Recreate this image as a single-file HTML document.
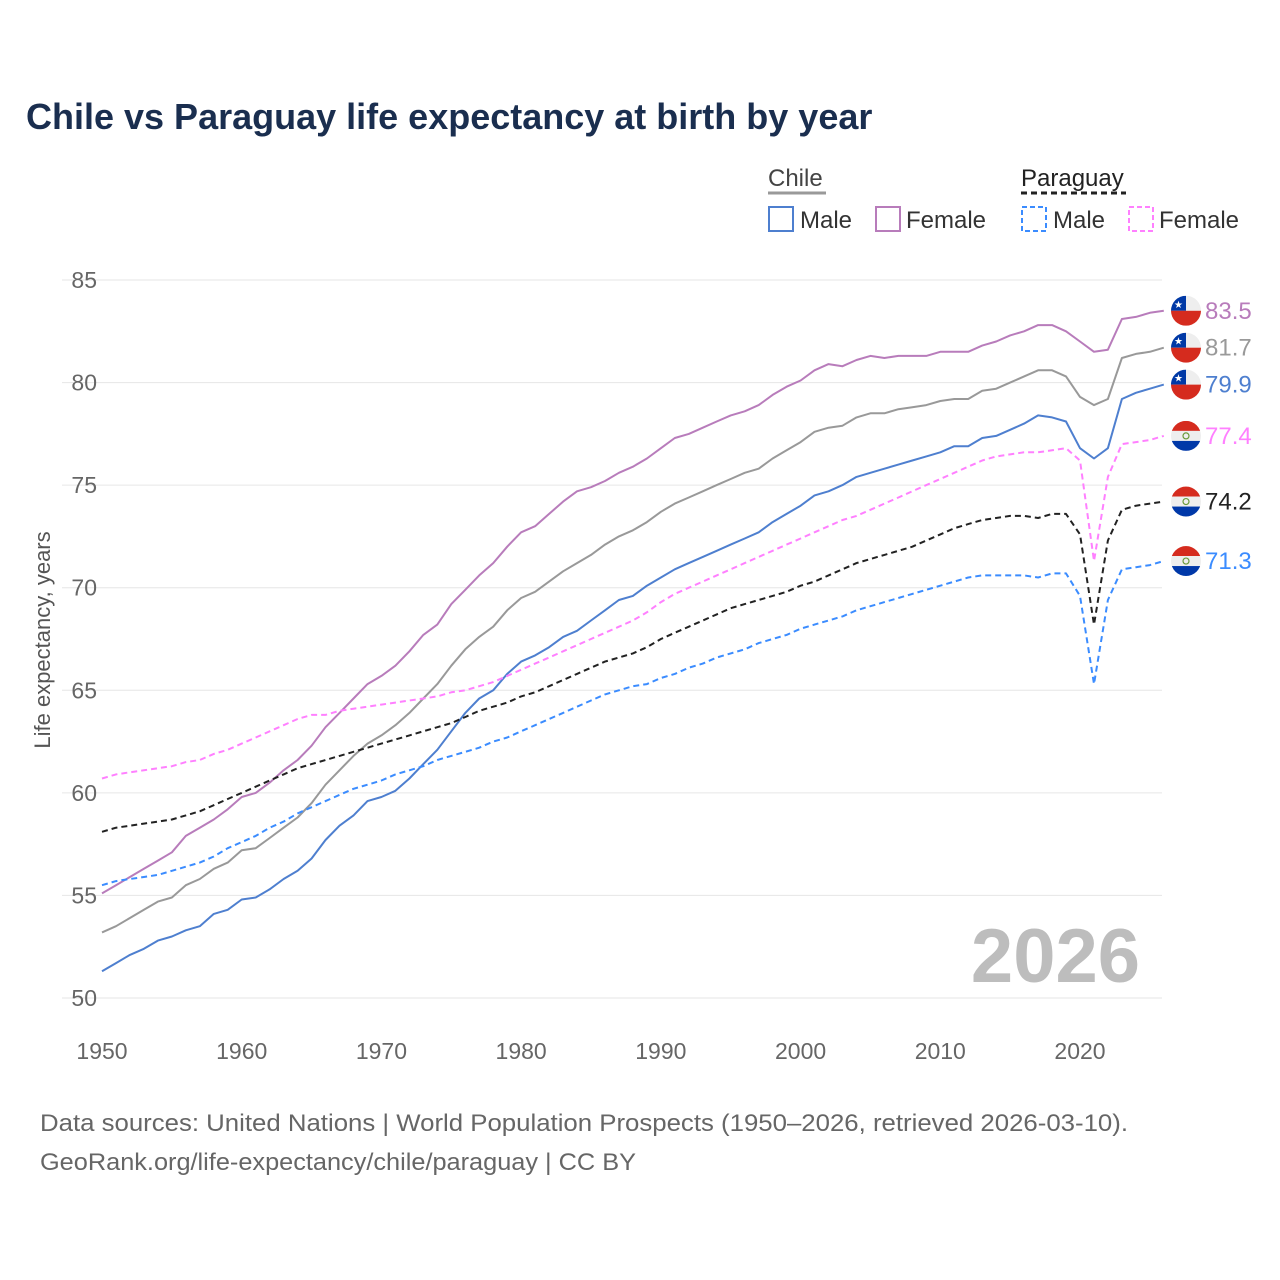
<!DOCTYPE html>
<html><head><meta charset="utf-8">
<style>
body{margin:0;background:#fff;font-family:"Liberation Sans",sans-serif;}
#wrap{position:relative;width:1280px;height:1280px;overflow:hidden;}
</style></head>
<body>
<div id="wrap">
<svg id="chart" width="1280" height="1280" xmlns="http://www.w3.org/2000/svg">
<text x="26" y="129" font-size="36" font-weight="bold" fill="#1a2e4f">Chile vs Paraguay life expectancy at birth by year</text>
<g id="legend">
<text x="768" y="186" font-size="24" fill="#444">Chile</text>
<line x1="768" y1="193" x2="826" y2="193" stroke="#999" stroke-width="3"/>
<text x="1021" y="186" font-size="24" fill="#222">Paraguay</text>
<line x1="1021" y1="193" x2="1126" y2="193" stroke="#222" stroke-width="3" stroke-dasharray="6,4"/>
<g><rect x="769" y="207" width="24" height="24" fill="none" stroke="#4e7fcf" stroke-width="2"/><text x="800" y="228" font-size="24" fill="#333">Male</text></g>
<g><rect x="876" y="207" width="24" height="24" fill="none" stroke="#b87cbb" stroke-width="2"/><text x="906" y="228" font-size="24" fill="#333">Female</text></g>
<g><rect x="1022" y="207" width="24" height="24" fill="none" stroke="#3b8cff" stroke-width="2" stroke-dasharray="5,3"/><text x="1053" y="228" font-size="24" fill="#333">Male</text></g>
<g><rect x="1129" y="207" width="24" height="24" fill="none" stroke="#ff80ff" stroke-width="2" stroke-dasharray="5,3"/><text x="1159" y="228" font-size="24" fill="#333">Female</text></g>
</g>
<g id="grid"></g>
<g id="series"></g>
<g id="labels"></g>
<text x="1140" y="982" font-size="76" font-weight="bold" fill="#bdbdbd" text-anchor="end">2026</text>
<text transform="translate(50,640) rotate(-90)" font-size="22" fill="#555" text-anchor="middle">Life expectancy, years</text>
<text x="40" y="1131" font-size="24" fill="#666" textLength="1088" lengthAdjust="spacingAndGlyphs">Data sources: United Nations | World Population Prospects (1950–2026, retrieved 2026-03-10).</text>
<text x="40" y="1170" font-size="24" fill="#666" textLength="596" lengthAdjust="spacingAndGlyphs">GeoRank.org/life-expectancy/chile/paraguay | CC BY</text>
</svg>
</div>
<script>
const startYear = 1950;
const yTicks = [50,55,60,65,70,75,80,85];
const xTicks = [1950,1960,1970,1980,1990,2000,2010,2020];
const chileFemale = [55.1,55.5,55.9,56.3,56.7,57.1,57.9,58.3,58.7,59.2,59.8,60.0,60.5,61.1,61.6,62.3,63.2,63.9,64.6,65.3,65.7,66.2,66.9,67.7,68.2,69.2,69.9,70.6,71.2,72.0,72.7,73.0,73.6,74.2,74.7,74.9,75.2,75.6,75.9,76.3,76.8,77.3,77.5,77.8,78.1,78.4,78.6,78.9,79.4,79.8,80.1,80.6,80.9,80.8,81.1,81.3,81.2,81.3,81.3,81.3,81.5,81.5,81.5,81.8,82.0,82.3,82.5,82.8,82.8,82.5,82.0,81.5,81.6,83.1,83.2,83.4,83.5];
const chileTotal = [53.2,53.5,53.9,54.3,54.7,54.9,55.5,55.8,56.3,56.6,57.2,57.3,57.8,58.3,58.8,59.5,60.4,61.1,61.8,62.4,62.8,63.3,63.9,64.6,65.3,66.2,67.0,67.6,68.1,68.9,69.5,69.8,70.3,70.8,71.2,71.6,72.1,72.5,72.8,73.2,73.7,74.1,74.4,74.7,75.0,75.3,75.6,75.8,76.3,76.7,77.1,77.6,77.8,77.9,78.3,78.5,78.5,78.7,78.8,78.9,79.1,79.2,79.2,79.6,79.7,80.0,80.3,80.6,80.6,80.3,79.3,78.9,79.2,81.2,81.4,81.5,81.7];
const chileMale = [51.3,51.7,52.1,52.4,52.8,53.0,53.3,53.5,54.1,54.3,54.8,54.9,55.3,55.8,56.2,56.8,57.7,58.4,58.9,59.6,59.8,60.1,60.7,61.4,62.1,63.0,63.9,64.6,65.0,65.8,66.4,66.7,67.1,67.6,67.9,68.4,68.9,69.4,69.6,70.1,70.5,70.9,71.2,71.5,71.8,72.1,72.4,72.7,73.2,73.6,74.0,74.5,74.7,75.0,75.4,75.6,75.8,76.0,76.2,76.4,76.6,76.9,76.9,77.3,77.4,77.7,78.0,78.4,78.3,78.1,76.8,76.3,76.8,79.2,79.5,79.7,79.9];
const paraguayFemale = [60.7,60.9,61.0,61.1,61.2,61.3,61.5,61.6,61.9,62.1,62.4,62.7,63.0,63.3,63.6,63.8,63.8,64.0,64.1,64.2,64.3,64.4,64.5,64.6,64.7,64.9,65.0,65.2,65.4,65.7,66.0,66.3,66.6,66.9,67.2,67.5,67.8,68.1,68.4,68.8,69.3,69.7,70.0,70.3,70.6,70.9,71.2,71.5,71.8,72.1,72.4,72.7,73.0,73.3,73.5,73.8,74.1,74.4,74.7,75.0,75.3,75.6,75.9,76.2,76.4,76.5,76.6,76.6,76.7,76.8,76.2,71.3,75.4,77.0,77.1,77.2,77.4];
const paraguayTotal = [58.1,58.3,58.4,58.5,58.6,58.7,58.9,59.1,59.4,59.7,60.0,60.3,60.6,60.9,61.2,61.4,61.6,61.8,62.0,62.2,62.4,62.6,62.8,63.0,63.2,63.4,63.7,64.0,64.2,64.4,64.7,64.9,65.2,65.5,65.8,66.1,66.4,66.6,66.8,67.1,67.5,67.8,68.1,68.4,68.7,69.0,69.2,69.4,69.6,69.8,70.1,70.3,70.6,70.9,71.2,71.4,71.6,71.8,72.0,72.3,72.6,72.9,73.1,73.3,73.4,73.5,73.5,73.4,73.6,73.6,72.6,68.2,72.3,73.8,74.0,74.1,74.2];
const paraguayMale = [55.5,55.7,55.8,55.9,56.0,56.2,56.4,56.6,56.9,57.3,57.6,57.9,58.3,58.6,59.0,59.3,59.6,59.9,60.2,60.4,60.6,60.9,61.1,61.3,61.6,61.8,62.0,62.2,62.5,62.7,63.0,63.3,63.6,63.9,64.2,64.5,64.8,65.0,65.2,65.3,65.6,65.8,66.1,66.3,66.6,66.8,67.0,67.3,67.5,67.7,68.0,68.2,68.4,68.6,68.9,69.1,69.3,69.5,69.7,69.9,70.1,70.3,70.5,70.6,70.6,70.6,70.6,70.5,70.7,70.7,69.6,65.3,69.4,70.9,71.0,71.1,71.3];

const NS = "http://www.w3.org/2000/svg";
const X0 = 102, X1 = 1080, Y85 = 280, Y50 = 998;
function xs(yr){ return X0 + (yr - 1950) * (X1 - X0) / 70; }
function ys(v){ return Y50 - (v - 50) * (Y50 - Y85) / 35; }
function mk(tag, attrs, parent){ const e = document.createElementNS(NS, tag); for (const k in attrs) e.setAttribute(k, attrs[k]); parent.appendChild(e); return e; }

const grid = document.getElementById('grid');
yTicks.forEach(v => {
  const l = mk('line', {x1: 62, x2: 1162, y1: ys(v), y2: ys(v), stroke: '#e6e6e6', 'stroke-width': 1}, grid);
  
  
  const t = mk('text', {x: 97, y: ys(v) + 8, 'font-size': 23, fill: '#666', 'text-anchor': 'end'}, grid);
  t.textContent = v;
  
  
});
xTicks.forEach(yr => {
  const t = mk('text', {x: xs(yr), y: 1059, 'font-size': 23, fill: '#666', 'text-anchor': 'middle'}, grid);
  t.textContent = yr;
  
  
});

const seriesG = document.getElementById('series');
const labelsG = document.getElementById('labels');
const defs = [
  {name:'chile-female', data: chileFemale, color:'#b87cbb', dash:null, flag:'cl'},
  {name:'chile-total', data: chileTotal, color:'#999999', dash:null, flag:'cl'},
  {name:'chile-male', data: chileMale, color:'#4e7fcf', dash:null, flag:'cl'},
  {name:'paraguay-female', data: paraguayFemale, color:'#ff80ff', dash:'6,4', flag:'py'},
  {name:'paraguay-total', data: paraguayTotal, color:'#222222', dash:'6,4', flag:'py'},
  {name:'paraguay-male', data: paraguayMale, color:'#3b8cff', dash:'6,4', flag:'py'}
];
defs.forEach(s => {
  const pts = s.data.map((v,i) => xs(startYear + i).toFixed(1) + ',' + ys(v).toFixed(1)).join(' ');
  const attrs = {points: pts, fill: 'none', stroke: s.color, 'stroke-width': 2, 'stroke-linejoin': 'round'};
  if (s.dash) attrs['stroke-dasharray'] = s.dash;
  const p = mk('polyline', attrs, seriesG);
  
  
  const last = s.data[s.data.length - 1];
  const y = ys(last);
  const g = mk('g', {}, labelsG);
  
  
  const cx = 1186, r = 15;
  const clipId = 'clip-' + s.name;
  const cp = mk('clipPath', {id: clipId}, g);
  mk('circle', {cx: cx, cy: y, r: r}, cp);
  const fg = mk('g', {'clip-path': 'url(#' + clipId + ')'}, g);
  if (s.flag === 'cl') {
    mk('rect', {x: cx - r, y: y - r, width: 2*r, height: r, fill: '#eeeeee'}, fg);
    mk('rect', {x: cx - r, y: y - r, width: r, height: r, fill: '#0039a6'}, fg);
    mk('rect', {x: cx - r, y: y, width: 2*r, height: r, fill: '#d52b1e'}, fg);
    const st = mk('text', {x: cx - r/2, y: y - 3, 'font-size': 10, fill: '#fff', 'text-anchor': 'middle'}, fg);
    st.textContent = '★';
  } else {
    mk('rect', {x: cx - r, y: y - r, width: 2*r, height: 10, fill: '#d52b1e'}, fg);
    mk('rect', {x: cx - r, y: y - 5, width: 2*r, height: 10, fill: '#eeeeee'}, fg);
    mk('rect', {x: cx - r, y: y + 5, width: 2*r, height: 10, fill: '#0038a8'}, fg);
    mk('circle', {cx: cx, cy: y, r: 3, fill: 'none', stroke: '#6a9a3a', 'stroke-width': 1.2}, fg);
  }
  const t = mk('text', {x: 1205, y: y + 8, 'font-size': 24, fill: s.color}, g);
  t.textContent = last.toFixed(1);
});
</script>
</body></html>
